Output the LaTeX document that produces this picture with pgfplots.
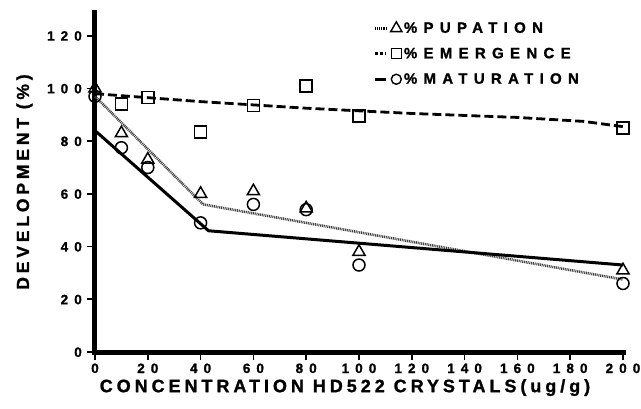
\documentclass[border=0pt]{standalone}
\usepackage{pgfplots}
\pgfplotsset{compat=1.18}
\usepackage{fontspec}
\setmainfont{Liberation Sans}
\newfontfamily\tickf[LetterSpace=45, FakeBold=1.2]{Liberation Sans Bold}
\newfontfamily\labf[LetterSpace=22, FakeBold=1.2]{Liberation Sans Bold}
\newfontfamily\legf[LetterSpace=42, FakeBold=1.2]{Liberation Sans Bold}
\begin{document}
\begin{tikzpicture}
\begin{axis}[
  scale only axis, width=528pt, height=340pt,
  xmin=0, xmax=200, ymin=0, ymax=129,
  axis lines=left,
  axis line style={-, line width=5pt, line cap=rect},
  xtick={0,20,...,200}, ytick={0,20,...,120},
  tick align=outside, major tick length=8pt,
  tick style={black, line width=1.6pt},
  /pgf/number format/assume math mode=true,
  tick label style={font=\fontsize{13.5}{15}\tickf, text height=9.8pt, text depth=0pt, inner sep=1pt},
  xticklabel style={yshift=-2pt},
  yticklabel style={xshift=-4pt},
  xlabel={CONCENTRATION HD522 CRYSTALS(ug/g)},
  ylabel={DEVELOPMENT (\%)},
  xlabel style={font=\fontsize{18}{20}\labf, text height=13pt, text depth=3pt, inner sep=1pt, yshift=-4pt, xshift=-14pt},
  ylabel style={font=\fontsize{17.5}{19}\labf, yshift=10pt},
  clip=false,
  legend cell align=left,
  legend style={draw=none, fill=none, at={(0.522,0.982)}, anchor=north west,
    font=\fontsize{15}{17}\legf, row sep=9.5pt,
    /tikz/every even column/.append style={column sep=6pt}},
  legend image code/.code={
    \draw[#1, mark=none] (0pt,0pt) -- (11pt,0pt);
    \draw[#1, solid] plot coordinates {(21pt,0pt)};
  },
]
% legend entries
\addlegendimage{black, line width=2.6pt, dash pattern=on 1pt off 0.8pt, mark=triangle, mark size=6.5pt, mark options={solid, line width=1.4pt}}
\addlegendentry{\%PUPATION}
\addlegendimage{black, line width=2.8pt, dash pattern=on 3pt off 2pt, mark=square, mark size=5pt, mark options={solid, line width=1.4pt}}
\addlegendentry{\%EMERGENCE}
\addlegendimage{black, line width=3pt, mark=o, mark size=5pt, mark options={solid, line width=1.4pt}}
\addlegendentry{\%MATURATION}
% fitted lines
\addplot[black!75, line width=2.6pt, dash pattern=on 1pt off 0.8pt, forget plot] coordinates {(0,97) (41,56) (200,27.5)};
\addplot[black, line width=2.8pt, dash pattern=on 9pt off 4pt, forget plot] coordinates {(0,98) (40,95) (80,92.5) (120,90.5) (160,89) (185,87.5) (200,85.5)};
\addplot[black, line width=3pt, forget plot] coordinates {(0,84) (43,46) (200,33)};
% pupation
\addplot[only marks, mark=triangle, mark size=7pt, mark options={black, fill=white, line width=1.5pt}, forget plot] coordinates {
(0,100) (10,83) (20,73) (40,60) (60,61) (80,54.5) (100,38) (200,31)};
% emergence
\addplot[only marks, mark=square, mark size=6pt, mark options={black, fill=white, line width=1.5pt}, forget plot] coordinates {
(10,94) (20,96.5) (40,83.5) (60,93.5) (80,101) (100,89.5) (200,85)};
% maturation
\addplot[only marks, mark=o, mark size=6pt, mark options={black, fill=white, line width=1.5pt}, forget plot] coordinates {
(0,97) (10,77.5) (20,70) (40,49) (60,56) (80,54) (100,33) (200,26)};
\end{axis}
\pgfresetboundingbox
\path (-95pt,-56pt) rectangle (546pt,352pt);
\end{tikzpicture}
\end{document}
